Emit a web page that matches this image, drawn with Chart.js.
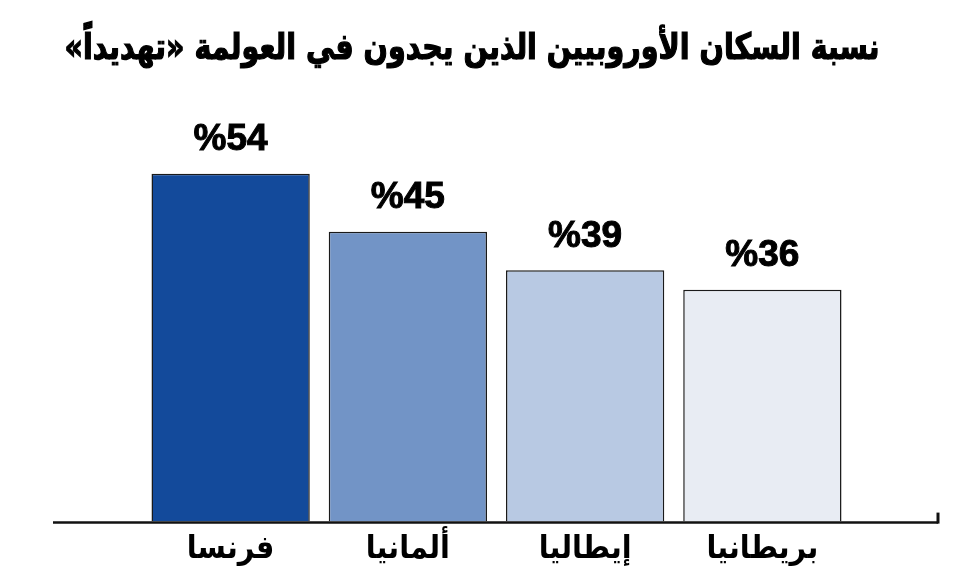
<!DOCTYPE html>
<html lang="ar">
<head>
<meta charset="utf-8">
<script src="https://cdn.jsdelivr.net/npm/chart.js@4"></script>
<style>
    html, body { margin: 0; padding: 0; background: #fff; }
    #caixa { width: 956px; height: 578px; position: relative; }
</style>
</head>
<body>
<div id="caixa"><canvas id="grafico" dir="rtl"></canvas></div>
<script>
const titulo = 'نسبة السكان الأوروبيين الذين يجدون في العولمة «تهديداً»';
const paises = ['فرنسا', 'ألمانيا', 'إيطاليا', 'بريطانيا'];
const percentuais = [54, 45, 39, 36];
const cores = ['#134a9b', '#7294c6', '#b8c9e3', '#e8ecf3'];

// titulo centralizado, comprimido na horizontal para caber
const pluginTitulo = {
    id: 'titulo',
    afterDraw(chart) {
        const ctx = chart.ctx;
        ctx.save();
        ctx.direction = 'rtl';
        ctx.font = 'bold 36px "DejaVu Sans Condensed", "DejaVu Sans"';
        ctx.fillStyle = '#000';
        ctx.textAlign = 'center';
        ctx.textBaseline = 'middle';
        const larg = ctx.measureText(titulo).width;
        const escala = Math.min(1, 815 / larg);
        ctx.translate(472, 50);
        ctx.scale(escala, 1);
        ctx.fillText(titulo, 0, 0);
        ctx.lineWidth = 1.2;
        ctx.strokeStyle = '#000';
        ctx.strokeText(titulo, 0, 0);
        ctx.restore();
    }
};

// linha de base que passa dos lados das barras
const pluginBase = {
    id: 'base',
    afterDatasetsDraw(chart) {
        const { ctx, chartArea } = chart;
        const y = chartArea.bottom + 1;
        ctx.save();
        ctx.strokeStyle = '#111';
        ctx.lineWidth = 2.5;
        ctx.beginPath();
        ctx.moveTo(chartArea.left - 89, y);
        ctx.lineTo(chartArea.right + 87, y);
        ctx.stroke();
        ctx.lineWidth = 3;
        ctx.beginPath();
        ctx.moveTo(chartArea.right + 87, y + 1);
        ctx.lineTo(chartArea.right + 87, y - 10);
        ctx.stroke();
        ctx.restore();
    }
};

// valores acima das barras
const pluginValores = {
    id: 'valores',
    afterDatasetsDraw(chart) {
        const ctx = chart.ctx;
        const meta = chart.getDatasetMeta(0);
        ctx.save();
        ctx.direction = 'ltr';
        ctx.font = 'bold 37px "Liberation Sans"';
        ctx.fillStyle = '#000';
        ctx.strokeStyle = '#000';
        ctx.lineWidth = 1;
        ctx.textAlign = 'center';
        ctx.textBaseline = 'middle';
        meta.data.forEach((barra, i) => {
            const txt = '%' + percentuais[i];
            ctx.fillText(txt, barra.x, barra.y - 34);
            ctx.strokeText(txt, barra.x, barra.y - 34);
        });
        ctx.restore();
    }
};

new Chart(document.getElementById('grafico').getContext('2d'), {
    type: 'bar',
    data: {
        labels: paises,
        datasets: [{
            data: percentuais,
            backgroundColor: cores,
            borderColor: '#1a1a1a',
            borderWidth: 1.5,
            barPercentage: 0.893,
            categoryPercentage: 1
        }]
    },
    options: {
        responsive: true,
        maintainAspectRatio: false,
        animation: false,
        layout: {
            padding: { top: 135, left: 142, right: 105, bottom: 0 }
        },
        plugins: {
            legend: { display: false },
            title: { display: false },
            tooltip: { enabled: false }
        },
        scales: {
            x: {
                grid: { display: false, drawTicks: false },
                border: { display: false },
                ticks: {
                    color: '#000',
                    padding: 9,
                    maxRotation: 0,
                    autoSkip: false,
                    font: { family: '"DejaVu Sans Condensed", "DejaVu Sans"', size: 32, weight: 'bold' }
                }
            },
            y: {
                display: false,
                min: 0,
                max: 60
            }
        }
    },
    plugins: [pluginTitulo, pluginBase, pluginValores]
});
</script>
</body>
</html>
